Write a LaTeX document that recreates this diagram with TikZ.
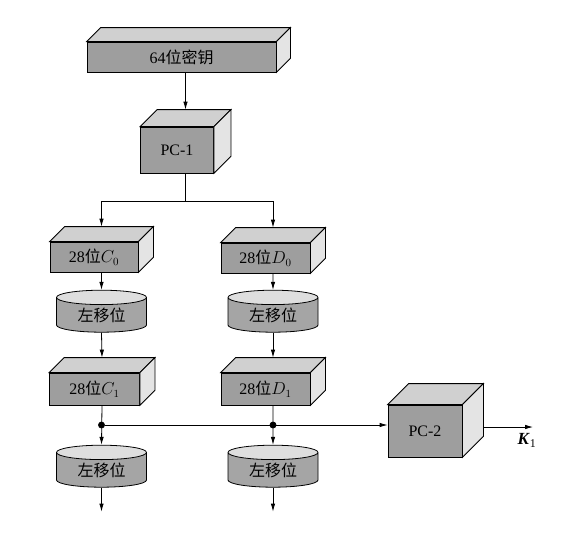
\documentclass[tikz,border=0pt]{standalone}
\usepackage{fontspec}
\setmainfont{Liberation Serif}
\newfontfamily\cjk{Noto Sans CJK SC}
\usetikzlibrary{shapes.geometric,arrows.meta,positioning}
\definecolor{facegray}{RGB}{158,158,158}
\definecolor{topgray}{RGB}{208,208,208}
\definecolor{sidegray}{RGB}{228,228,228}
\definecolor{drumgray}{RGB}{165,165,165}
\definecolor{drumtop}{RGB}{222,222,222}

\begin{document}
\begin{tikzpicture}[
x=1pt,y=-1pt,
line width=0.8pt,
cube/.style={
  draw,
  fill=facegray,
  inner sep=0,
  font=\fontsize{16}{18}\selectfont
  },
drum/.style={
  draw,
  cylinder,
  shape border rotate=90,
  aspect=0.3,
  cylinder uses custom fill,
  cylinder body fill=drumgray,
  cylinder end fill=drumtop,
  minimum width=90pt,
  minimum height=42pt,
  inner sep=0,
  font=\fontsize{16}{18}\selectfont
  },
dot/.style={draw,shape=circle,minimum size=6pt,inner sep=0,fill=black
  },
>={Latex[length=8pt,width=4.5pt]}]
\useasboundingbox (0,0) rectangle (573,541);

% boxes
\node[cube,minimum width=189pt,minimum height=30pt] (key) at (181.5,57) {64{\cjk 位密钥}};
\node[cube,minimum width=73pt,minimum height=46pt] (pcone) at (177,150) {PC-1};
\node[cube,minimum width=88pt,minimum height=30pt] (czero) at (94,257) {28{\cjk 位}$C_0$};
\node[cube,minimum width=89pt,minimum height=30pt] (dzero) at (265.5,258) {28{\cjk 位}$D_0$};
\node[cube,minimum width=90pt,minimum height=32pt] (cone) at (94.5,389) {28{\cjk 位}$C_1$};
\node[cube,minimum width=89pt,minimum height=32pt] (done) at (265.5,389) {28{\cjk 位}$D_1$};
\node[cube,minimum width=74pt,minimum height=52pt] (pctwo) at (425,431) {PC-2};

\foreach \n/\d in {key/14,pcone/17,czero/15,dzero/15,cone/15,done/15,pctwo/21}
{
  \draw[fill=topgray] (\n.north west) -- ++(\d,-\d) -- ([shift={(\d,-\d)}]\n.north east) -- (\n.north east) -- cycle;
  \draw[fill=sidegray] (\n.north east) -- ([shift={(\d,-\d)}]\n.north east) -- ([shift={(\d,-\d)}]\n.south east) -- (\n.south east) -- cycle;
  \coordinate (\n-top) at ([shift={(\d/2,-\d)}]\n.north);
}

% shifters
\node[drum] (lsczero) at (101.5,315) {{\cjk 左移位}};
\node[drum] (lsdzero) at (273,315) {{\cjk 左移位}};
\node[drum] (lscone) at (101.5,470) {{\cjk 左移位}};
\node[drum] (lsdone) at (273,470) {{\cjk 左移位}};

\node[dot] (ctap) at (101.5,425) {};
\node[dot] (dtap) at (273,425) {};
\coordinate[below=24pt of lscone] (cend);
\coordinate[below=24pt of lsdone] (dend);
\coordinate (kout) at (533,427);

\draw[->] (key.south -| pcone-top) -- (pcone-top);
\draw (pcone.south -| pcone-top) -- ++(0,28) coordinate (split);
\draw[->] (split) -| (czero-top);
\draw[->] (split) -| (dzero-top);

\draw[->] (czero.south -| czero-top) -- (lsczero.north);
\draw[->] (dzero.south -| dzero-top) -- (lsdzero.north);
\draw[->] (lsczero.south) -- (cone-top);
\draw[->] (lsdzero.south) -- (done-top);
\draw[->] (cone.south -| cone-top) -- (lscone.north);
\draw[->] (done.south -| done-top) -- (lsdone.north);
\draw[->] (lscone.south) -- (cend);
\draw[->] (lsdone.south) -- (dend);

\draw[->] (ctap) -- (ctap -| pctwo.west);
\draw[->] ([shift={(21,-4)}]pctwo.east) -- (kout) node[below=3pt,xshift=-6pt,font=\fontsize{17}{19}\selectfont] {\textbf{\textit{K}}\textsubscript{1}};

\end{tikzpicture}
\end{document}
